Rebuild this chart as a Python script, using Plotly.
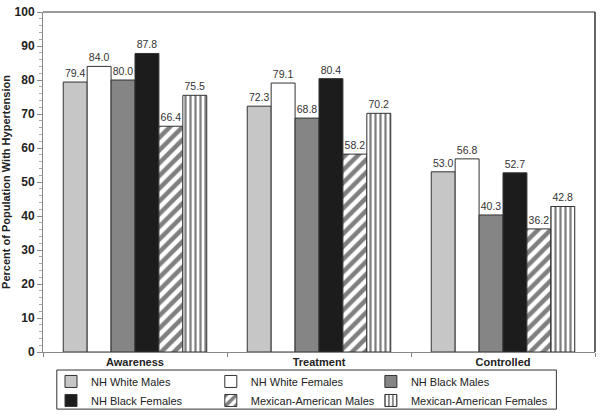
import plotly.graph_objects as go

categories = ["Awareness", "Treatment", "Controlled"]
series_names = ["NH White Males", "NH White Females", "NH Black Males",
                "NH Black Females", "Mexican-American Males", "Mexican-American Females"]
nh_white_males = [79.4, 72.3, 53.0]
nh_white_females = [84.0, 79.1, 56.8]
nh_black_males = [80.0, 68.8, 40.3]
nh_black_females = [87.8, 80.4, 52.7]
mex_am_males = [66.4, 58.2, 36.2]
mex_am_females = [75.5, 70.2, 42.8]
y_ticks = [0, 10, 20, 30, 40, 50, 60, 70, 80, 90, 100]

values = [nh_white_males, nh_white_females, nh_black_males,
          nh_black_females, mex_am_males, mex_am_females]
styles = [
    dict(color="#c6c6c6"),
    dict(color="#ffffff"),
    dict(color="#858585"),
    dict(color="#1c1c1c"),
    dict(color="#ffffff", pattern=dict(shape="/", fgcolor="#000000", bgcolor="#ffffff", size=9, solidity=0.5)),
    dict(color="#ffffff", pattern=dict(shape="|", fgcolor="#000000", bgcolor="#ffffff", size=5, solidity=0.45)),
]
# legend column for each series (row-wise order, 3 columns)
legend_ids = ["legend", "legend2", "legend3", "legend", "legend2", "legend3"]

fig = go.Figure()
for name, vals, st, lg in zip(series_names, values, styles, legend_ids):
    fig.add_trace(go.Bar(
        name=name, x=categories, y=vals, legend=lg,
        marker=dict(line=dict(color="#333333", width=1), **st),
        text=[f"{v:.1f}" for v in vals], textposition="outside",
        textfont=dict(family="Liberation Sans, Arial", size=10.5, color="#333333"),
        constraintext="none",
        cliponaxis=False,
    ))

legend_common = dict(orientation="v", y=-0.044, xanchor="left", yanchor="top",
                     borderwidth=0, bgcolor="rgba(0,0,0,0)", tracegroupgap=0,
                     font=dict(size=11, color="#222222", family="Liberation Sans, Arial"),
                     itemwidth=30)

fig.update_layout(
    width=604, height=417,
    barmode="group", bargap=0.22, bargroupgap=0,
    plot_bgcolor="white", paper_bgcolor="white",
    margin=dict(l=43, r=9, t=12, b=65, autoexpand=False),
    font=dict(family="Liberation Sans, Arial", color="#222222"),
    legend=dict(x=0.0145, **legend_common),
    legend2=dict(x=0.304, **legend_common),
    legend3=dict(x=0.594, **legend_common),
    xaxis=dict(
        showline=True, linecolor="#888888", linewidth=1,
        tickson="boundaries", ticks="outside", ticklen=4, tickcolor="#888888",
        tickfont=dict(size=11, color="#222222", family="Liberation Sans, Arial", weight="bold"),
    ),
    yaxis=dict(
        range=[0, 100], tickvals=y_ticks,
        showline=True, linecolor="#888888", linewidth=1,
        ticks="outside", ticklen=5, tickcolor="#888888",
        minor=dict(dtick=2, ticks="outside", ticklen=3, tickcolor="#aaaaaa", showgrid=False),
        showgrid=False, zeroline=False,
        tickfont=dict(size=12, color="#222222", family="Liberation Sans, Arial", weight="bold"),
        title=dict(text="Percent of Population With Hypertension",
                   font=dict(size=11, color="#222222", family="Liberation Sans, Arial", weight="bold"),
                   standoff=6),
    ),
)
# frame on top and right
fig.add_shape(type="line", xref="paper", yref="paper", x0=0, x1=1, y0=1, y1=1,
              line=dict(color="#777777", width=1.5))
fig.add_shape(type="line", xref="paper", yref="paper", x0=1, x1=1, y0=0, y1=1,
              line=dict(color="#333333", width=1.5))
# legend box
fig.add_shape(type="rect", xref="paper", yref="paper", x0=0.025, x1=0.93, y0=-0.053, y1=-0.168,
              line=dict(color="#333333", width=1), fillcolor="rgba(0,0,0,0)")

fig.write_html("out.html", post_script="document.body.style.margin='0';",
               config={"displayModeBar": False})
